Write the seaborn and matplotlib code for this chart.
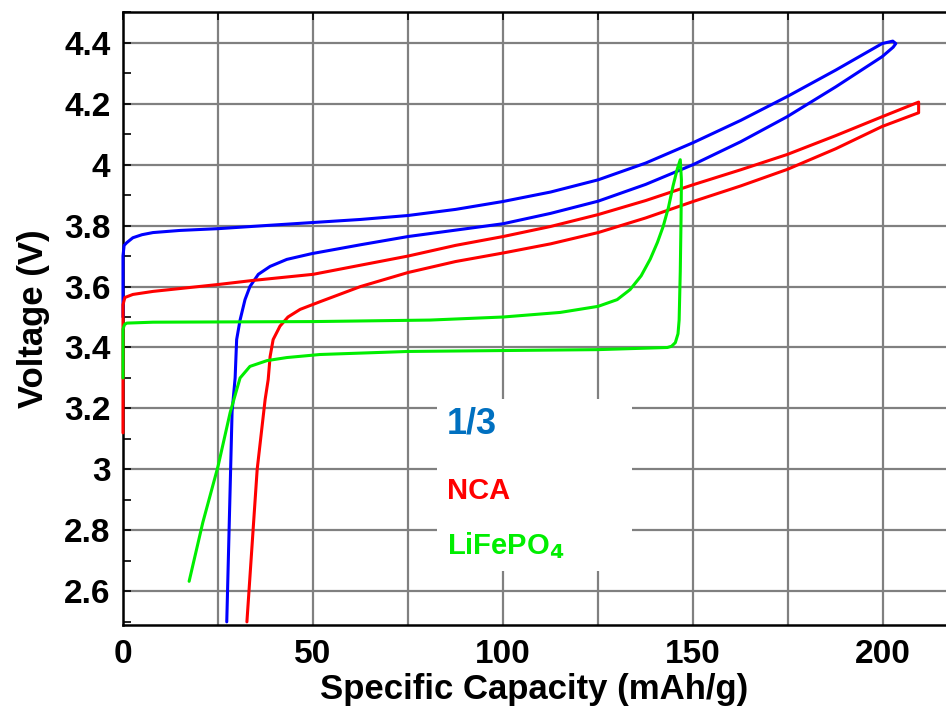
import seaborn as sns
import matplotlib
matplotlib.use("Agg")
import matplotlib.pyplot as plt
from matplotlib.patches import Rectangle
from matplotlib.ticker import MultipleLocator, FuncFormatter

sns.set_style("white")
plt.rcParams['font.family'] = ['Liberation Sans', 'DejaVu Sans']

# "1/3" cell (blue): charge along the top, discharge back along the bottom
x_13 = [0, 0, 0.3, 1, 2.6, 5, 7.9, 15, 25.3, 37.5, 50, 62.5, 75, 87.5, 100, 112.5, 125,
        137.5, 150, 162.5, 174.7, 187.5, 199.7, 202.5, 203.3, 202.6, 199.7, 187.5, 174.7,
        162.5, 150, 137.5, 125, 112.5, 100, 87.5, 75, 62.5, 49.7, 43.1, 38.7, 35.6, 33.4,
        32.1, 30.8, 29.9, 29.5, 28.7, 27.3]
v_13 = [3.50, 3.70, 3.735, 3.744, 3.76, 3.77, 3.777, 3.784, 3.79, 3.80, 3.81, 3.82, 3.833, 3.853, 3.879, 3.91, 3.95,
        4.005, 4.072, 4.145, 4.223, 4.31, 4.397, 4.405, 4.397, 4.385, 4.354, 4.255, 4.157,
        4.075, 4.0, 3.935, 3.88, 3.84, 3.806, 3.785, 3.764, 3.737, 3.708, 3.689, 3.666, 3.64, 3.60,
        3.557, 3.49, 3.426, 3.30, 3.19, 2.5]

# NCA (red)
x_nca = [0, 0, 0.5, 2.6, 7.9, 25.3, 34.2, 50, 62.5, 75, 87.5, 100, 112.5, 125, 137.5, 150,
         162.5, 174.7, 187.5, 199.7, 209.3, 209.3, 199.7, 187.5, 174.7, 162.5, 150, 137.5,
         125, 112.5, 100, 87.5, 75, 62.5, 51.8, 46.6, 43.4, 41.3, 39.5, 38.7, 38.2, 37.4,
         35.3, 32.6]
v_nca = [3.12, 3.54, 3.564, 3.574, 3.584, 3.607, 3.62, 3.64, 3.67, 3.70, 3.735, 3.764, 3.797, 3.836, 3.882, 3.934,
         3.983, 4.033, 4.095, 4.157, 4.205, 4.17, 4.125, 4.052, 3.984, 3.93, 3.879, 3.825,
         3.777, 3.74, 3.71, 3.682, 3.646, 3.60, 3.55, 3.525, 3.50, 3.47, 3.426, 3.37, 3.295, 3.23,
         3.0, 2.5]

# LiFePO4 (green)
x_lfp = [0, 0, 0.4, 1, 7.9, 50, 80.8, 100, 115, 125, 130, 133.4, 136.3, 138.7, 140.6, 142.1,
         143.5, 144.7, 145.8, 146.6, 146.9, 146.8, 146.6, 146.3, 146.0, 145.3, 144.3, 143.2,
         125, 100, 75, 51.8, 43.1, 37.9, 33.4, 30.8, 28.2, 25, 21, 17.4]
v_lfp = [3.30, 3.46, 3.475, 3.48, 3.483, 3.485, 3.49, 3.50, 3.515, 3.535, 3.557, 3.59, 3.635, 3.69, 3.745, 3.797,
         3.86, 3.93, 3.985, 4.016, 3.95, 3.82, 3.65, 3.49, 3.445, 3.416, 3.404, 3.40,
         3.393, 3.39, 3.387, 3.377, 3.367, 3.357, 3.338, 3.30, 3.187, 3.01, 2.826, 2.633]

fig = plt.figure(figsize=(9.46, 7.15), dpi=100)
ax = fig.add_axes([0.130, 0.126, 0.870, 0.857])

for xs, vs, col in [(x_13, v_13, "#0000FF"), (x_nca, v_nca, "#FF0000"), (x_lfp, v_lfp, "#00EE00")]:
    sns.lineplot(x=xs, y=vs, sort=False, estimator=None, color=col, lw=2.2, ax=ax,
                 zorder=3, clip_on=False, solid_joinstyle="round", solid_capstyle="round")

ax.set_xlim(0, 216.5)
ax.set_ylim(2.49, 4.5)

ax.xaxis.set_major_locator(MultipleLocator(50))
ax.xaxis.set_minor_locator(MultipleLocator(25))
ax.yaxis.set_major_locator(MultipleLocator(0.2))
ax.yaxis.set_minor_locator(MultipleLocator(0.1))
ax.yaxis.set_major_formatter(FuncFormatter(lambda v, p: "%g" % round(v, 2)))

ax.set_axisbelow(True)
ax.grid(True, which="major", color="#808080", lw=1.6)
ax.grid(True, which="minor", axis="x", color="#808080", lw=1.6)

ax.tick_params(axis="both", which="both", direction="in", color="black", labelcolor="black")
ax.tick_params(axis="y", which="both", left=True, length=6, width=1.2, pad=9)
ax.tick_params(axis="x", which="both", top=True, bottom=False, length=6, width=1.2, pad=10)
for lab in ax.get_xticklabels() + ax.get_yticklabels():
    lab.set_fontsize(24)
    lab.set_fontweight("bold")

for s in ["left", "bottom", "top"]:
    ax.spines[s].set_color("black")
    ax.spines[s].set_linewidth(1.8)
ax.spines["right"].set_visible(False)

ax.set_xlabel("Specific Capacity (mAh/g)", fontsize=25, fontweight="bold", labelpad=2, color="black")
ax.set_ylabel("Voltage (V)", fontsize=25, fontweight="bold", labelpad=10, color="black")

# white panel behind the labels
ax.add_patch(Rectangle((82.6, 2.666), 51.4, 0.564, facecolor="white", edgecolor="none", zorder=1))
ax.text(85.3, 3.148, "1/3", color="#0070C0", fontsize=26, fontweight="bold", va="center", zorder=3)
ax.text(85.3, 2.928, "NCA", color="#FF0000", fontsize=21, fontweight="bold", va="center", zorder=3)
ax.text(85.3, 2.75, r"LiFePO$_\mathbf{4}$", color="#00EE00", fontsize=21, fontweight="bold", va="center", zorder=3)

plt.savefig("out.png", dpi=100)
